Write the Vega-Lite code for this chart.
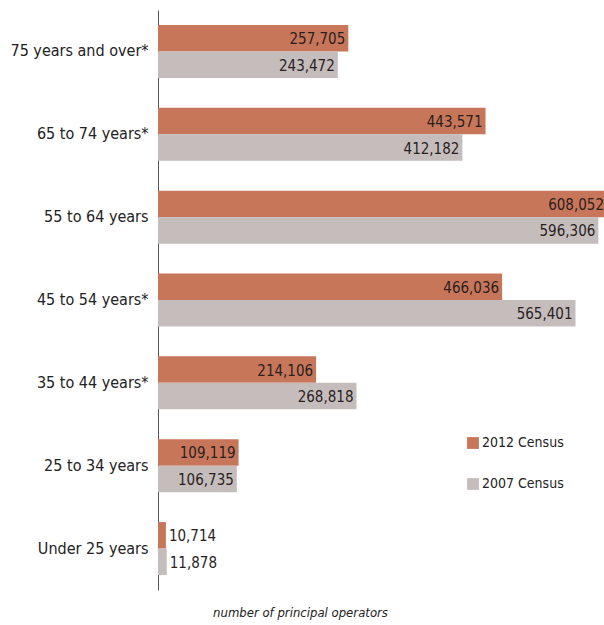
{
  "$schema": "https://vega.github.io/schema/vega-lite/v6.json",
  "autosize": {"type": "none"},
  "padding": {"left": 158, "top": 10, "right": 0, "bottom": 35},
  "width": 446,
  "height": 580,
  "background": "white",
  "config": {
    "view": {"stroke": null},
    "font": "DejaVu Sans Condensed, Roboto Condensed, Roboto"
  },
  "data": {
    "values": [
      {"age": "75 years and over*", "census": "2012 Census", "value": 257705},
      {"age": "75 years and over*", "census": "2007 Census", "value": 243472},
      {"age": "65 to 74 years*", "census": "2012 Census", "value": 443571},
      {"age": "65 to 74 years*", "census": "2007 Census", "value": 412182},
      {"age": "55 to 64 years", "census": "2012 Census", "value": 608052},
      {"age": "55 to 64 years", "census": "2007 Census", "value": 596306},
      {"age": "45 to 54 years*", "census": "2012 Census", "value": 466036},
      {"age": "45 to 54 years*", "census": "2007 Census", "value": 565401},
      {"age": "35 to 44 years*", "census": "2012 Census", "value": 214106},
      {"age": "35 to 44 years*", "census": "2007 Census", "value": 268818},
      {"age": "25 to 34 years", "census": "2012 Census", "value": 109119},
      {"age": "25 to 34 years", "census": "2007 Census", "value": 106735},
      {"age": "Under 25 years", "census": "2012 Census", "value": 10714},
      {"age": "Under 25 years", "census": "2007 Census", "value": 11878}
    ]
  },
  "encoding": {
    "y": {
      "field": "age",
      "type": "nominal",
      "sort": null,
      "scale": {"paddingInner": 0.36, "paddingOuter": 0.18},
      "axis": {
        "title": null,
        "ticks": false,
        "labelPadding": 10,
        "labelFontSize": 16,
        "labelColor": "#222222",
        "domainColor": "#555555",
        "domainWidth": 1
      }
    },
    "yOffset": {
      "field": "census",
      "type": "nominal",
      "sort": ["2012 Census", "2007 Census"],
      "scale": {"paddingInner": 0, "paddingOuter": 0}
    },
    "x": {
      "field": "value",
      "type": "quantitative",
      "scale": {"domain": [0, 604000], "nice": false},
      "axis": {
        "title": "number of principal operators",
        "titleFontStyle": "italic",
        "titleFontWeight": "normal",
        "titleFontSize": 13,
        "titleColor": "#222222",
        "titleX": 142,
        "titleY": 16,
        "labels": false,
        "ticks": false,
        "domain": false,
        "grid": false
      }
    }
  },
  "layer": [
    {
      "mark": {"type": "bar"},
      "encoding": {
        "color": {
          "field": "census",
          "type": "nominal",
          "sort": ["2012 Census", "2007 Census"],
          "scale": {"domain": ["2012 Census", "2007 Census"], "range": ["#c8765a", "#c5bdbc"]},
          "legend": {
            "title": null,
            "orient": "none",
            "legendX": 308,
            "legendY": 426,
            "symbolType": "square",
            "symbolSize": 140,
            "symbolStrokeWidth": 0,
            "labelFontSize": 14,
            "labelOffset": 2,
            "labelColor": "#222222",
            "rowPadding": 27
          }
        }
      }
    },
    {
      "transform": [{"filter": "datum.value >= 50000"}],
      "mark": {"type": "text", "align": "right", "dx": -3, "fontSize": 15, "color": "#2a1e1e", "baseline": "middle", "dy": 1},
      "encoding": {"text": {"field": "value", "type": "quantitative", "format": ","}}
    },
    {
      "transform": [{"filter": "datum.value < 50000"}],
      "mark": {"type": "text", "align": "left", "dx": 3, "fontSize": 15, "color": "#2a1e1e", "baseline": "middle", "dy": 1},
      "encoding": {"text": {"field": "value", "type": "quantitative", "format": ","}}
    }
  ]
}
